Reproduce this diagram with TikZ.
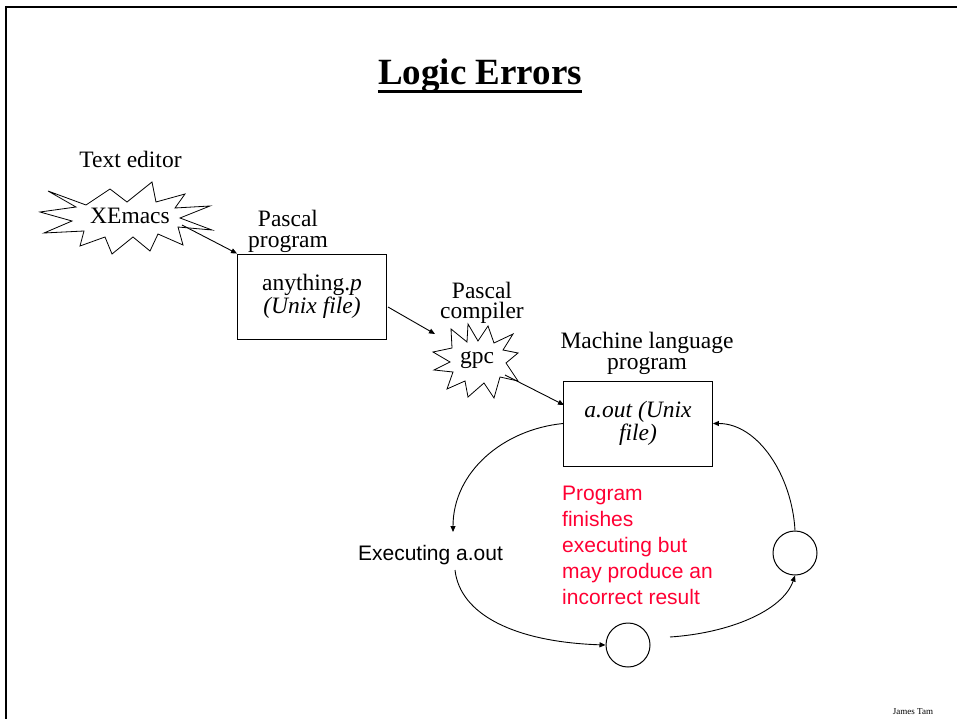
\documentclass[tikz,border=0pt]{standalone}
\usepackage{fontspec}
\setmainfont{Liberation Serif}
\newfontfamily\arialf{Liberation Sans}
\usetikzlibrary{arrows.meta}
\definecolor{errred}{RGB}{255,0,51}
\begin{document}
\begin{tikzpicture}[x=1pt,y=-1pt,
 lbl/.style={inner sep=0pt, align=center, font=\fontsize{23.5}{21}\selectfont},
 filebox/.style={draw, line width=0.9pt, minimum width=149pt, minimum height=85pt, inner sep=0pt, align=center},
 burst/.style={draw, line width=0.8pt, fill=white, line join=miter},
 arr/.style={line width=0.9pt, -{Triangle[length=6pt,width=5pt]}},
 state/.style={draw, circle, line width=1pt, minimum size=44pt, inner sep=0pt},
 sanslbl/.style={inner sep=0pt, font=\arialf\fontsize{21}{26}\selectfont}]
\useasboundingbox (0,0) rectangle (957,719);
% frame
\draw[line width=2.5pt] (5,7) -- (957,7);
\draw[line width=2.5pt] (6,6) -- (6,719);
% title
\node[inner sep=0pt, anchor=base, font=\bfseries\fontsize{37}{40}\selectfont] (title) at (480,85) {Logic Errors};
\draw[line width=3pt] ([yshift=-7pt]title.base west) -- ([yshift=-7pt]title.base east);
% text editor
\node[lbl, anchor=base] (tedit) at (130.5,168) {Text editor};
\draw[burst] (48,191) -- (86,205) -- (110,189) -- (127,202) -- (152,182) -- (156,202) -- (185,194) -- (175,208) -- (210,206) -- (180,218) -- (212,230) -- (178,227) -- (183,245) -- (158,234) -- (150,251) -- (133,237) -- (112,254) -- (105,237) -- (80,246) -- (84,231) -- (44,233) -- (72,221) -- (40,212) -- (76,207) -- cycle;
\node[lbl] (xemacs) at (130,216) {XEmacs};
\coordinate (xout) at (182,225);
% pascal program
\node[lbl, font=\fontsize{23.5}{21}\selectfont] (pprog) at (288,231) {Pascal\\program};
\node[filebox, font=\fontsize{23.5}{17.5}\selectfont] (box1) at (312,296.5) {anything.\textit{p}\\\textit{(Unix file)}};
\draw[arr] (xout) -- (box1.north west);
% compiler
\node[lbl, font=\fontsize{23.5}{20}\selectfont] (pcomp) at (482,303) {Pascal\\compiler};
\draw[burst] (488,326) -- (494,343) -- (513,334) -- (503,350) -- (518,353) -- (506,363) -- (518,381) -- (500,377) -- (494,398) -- (484,383) -- (468,397) -- (465,381) -- (447,389) -- (453,372) -- (434,370) -- (450,362) -- (433,352) -- (452,348) -- (451,329) -- (467,342) -- (468,324) -- (478,341) -- cycle;
\node[lbl] (gpc) at (477,360) {gpc};
\coordinate (box1out) at (388,307);
\coordinate (gpcin) at (435,334);
\coordinate (gpcout) at (505,375);
\draw[arr] (box1out) -- (gpcin);
% machine language
\node[lbl, font=\fontsize{23.5}{21}\selectfont] (mlang) at (647,353) {Machine language\\program};
\node[filebox, font=\itshape\fontsize{23.5}{20}\selectfont] (box2) at (638,423.5) {a.out (Unix\\file)};
\coordinate (box2in) at (564,405);
\draw[arr] (gpcout) -- (box2in);
% execution cycle
\node[sanslbl, anchor=base] (exec) at (430.5,560) {Executing a.out};
\coordinate (execin) at (453,532);
\coordinate (execout) at (455,570);
\node[state] (c1) at (628,645) {};
\node[state] (c2) at (795,553) {};
\coordinate (c1out) at (670,637);
\draw[arr] (box2.west) .. controls +(-60,6) and +(0,-60) .. (execin);
\draw[arr] (execout) .. controls +(5,45) and +(-90,-3) .. (c1.west);
\draw[arr] (c1out) .. controls +(60,-4) and +(-12,35) .. (c2.south);
\draw[arr] (c2.north) .. controls +(-3,-55) and +(45,0) .. (box2.east);
\node[sanslbl, text=errred, align=left, anchor=north west] (note) at (562,486) {Program\\finishes\\executing but\\may produce an\\incorrect result};
% footer
\node[inner sep=0pt, font=\fontsize{9}{10}\selectfont] (author) at (913,712) {James Tam};
\end{tikzpicture}
\end{document}
